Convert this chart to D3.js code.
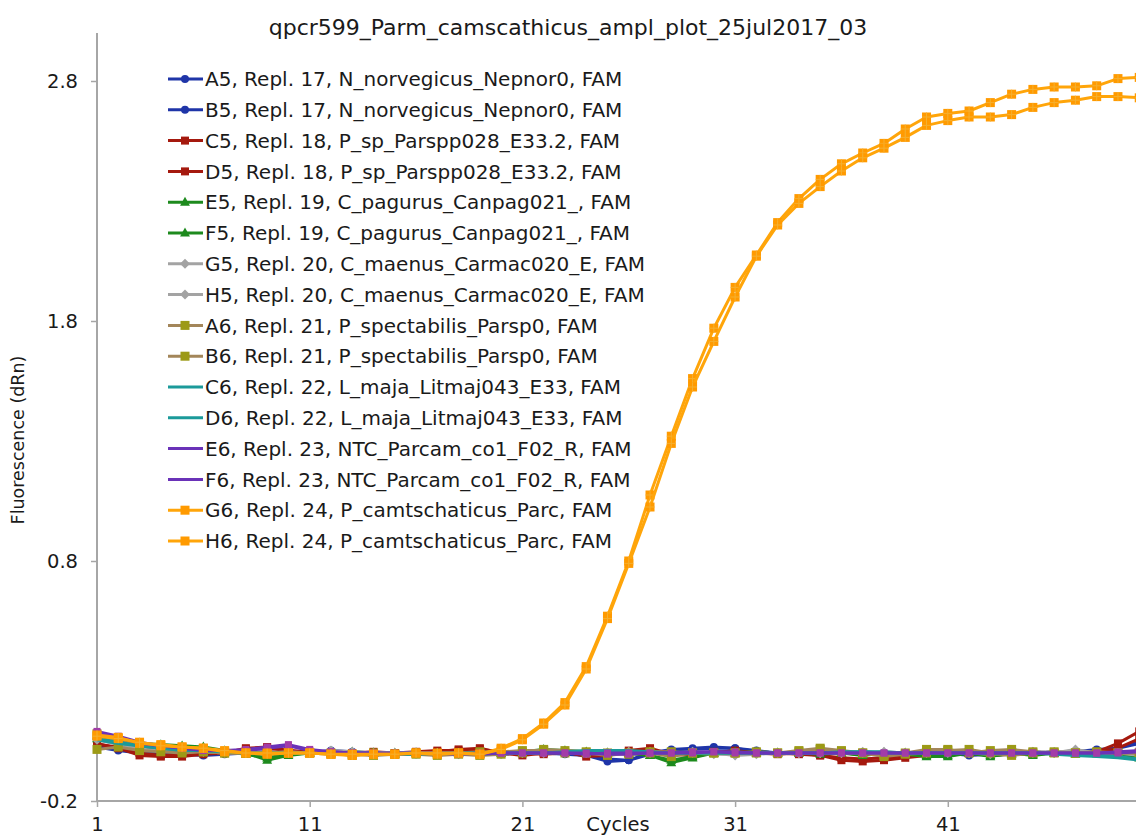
<!DOCTYPE html>
<html>
<head>
<meta charset="utf-8">
<script src="https://cdn.jsdelivr.net/npm/d3@7"></script>
<style>
  html, body { margin: 0; padding: 0; background: #fff; }
  svg { display: block; }
  text { font-family: "DejaVu Sans", Verdana, sans-serif; fill: #1a1a1a; }
</style>
</head>
<body>
<svg id="chart" width="1136" height="836"></svg>
<script>
const title = "qpcr599_Parm_camscathicus_ampl_plot_25jul2017_03";
const xLabel = "Cycles";
const yLabel = "Fluorescence (dRn)";
const xTicks = [1, 11, 21, 31, 41];
const yTicks = [-0.2, 0.8, 1.8, 2.8];
const cycles = d3.range(1, 51);

const seriesNames = [
  "A5, Repl. 17, N_norvegicus_Nepnor0, FAM",
  "B5, Repl. 17, N_norvegicus_Nepnor0, FAM",
  "C5, Repl. 18, P_sp_Parspp028_E33.2, FAM",
  "D5, Repl. 18, P_sp_Parspp028_E33.2, FAM",
  "E5, Repl. 19, C_pagurus_Canpag021_, FAM",
  "F5, Repl. 19, C_pagurus_Canpag021_, FAM",
  "G5, Repl. 20, C_maenus_Carmac020_E, FAM",
  "H5, Repl. 20, C_maenus_Carmac020_E, FAM",
  "A6, Repl. 21, P_spectabilis_Parsp0, FAM",
  "B6, Repl. 21, P_spectabilis_Parsp0, FAM",
  "C6, Repl. 22, L_maja_Litmaj043_E33, FAM",
  "D6, Repl. 22, L_maja_Litmaj043_E33, FAM",
  "E6, Repl. 23, NTC_Parcam_co1_F02_R, FAM",
  "F6, Repl. 23, NTC_Parcam_co1_F02_R, FAM",
  "G6, Repl. 24, P_camtschaticus_Parc, FAM",
  "H6, Repl. 24, P_camtschaticus_Parc, FAM"
];

const valuesA5 = [0.03,0.015,0.005,0.0,-0.005,-0.01,-0.005,0.0,0.005,0.0,0.0,0.01,0.005,0.0,-0.005,-0.005,0.0,0.005,0.0,-0.005,0.0,0.0,0.0,-0.01,-0.035,-0.03,0.0,0.015,0.02,0.025,0.02,0.005,0.0,0.0,0.005,0.0,-0.005,0.0,0.0,0.005,0.0,-0.01,-0.005,0.0,0.005,0.0,0.005,0.015,0.02,0.04];
const valuesB5 = [0.025,0.01,0.0,0.0,0.0,-0.005,0.0,0.0,0.0,0.005,0.005,0.0,0.0,0.0,0.0,0.0,0.0,0.0,0.0,-0.005,0.0,0.0,-0.005,-0.01,-0.025,-0.03,-0.005,0.005,0.015,0.02,0.02,0.01,0.0,0.0,0.0,0.0,0.0,0.0,-0.005,0.0,0.0,0.0,0.0,0.0,0.0,0.005,0.0,0.01,0.02,0.05];
const valuesC5 = [0.04,0.02,-0.01,-0.015,-0.015,-0.005,0.0,0.02,0.025,0.01,0.005,0.0,0.0,0.005,0.0,0.0,0.005,0.015,0.02,0.0,-0.01,0.0,0.005,-0.015,-0.01,0.01,0.02,-0.005,-0.01,0.0,0.01,0.0,-0.005,0.0,-0.01,-0.03,-0.035,-0.03,-0.02,-0.01,-0.005,0.0,-0.01,-0.005,0.0,0.0,0.0,0.005,0.04,0.09];
const valuesD5 = [0.035,0.025,0.0,-0.01,-0.005,0.0,0.005,0.015,0.02,0.01,0.0,0.0,-0.005,0.0,0.0,0.005,0.01,0.01,0.015,0.005,0.0,-0.005,0.0,-0.005,-0.005,0.0,0.01,0.0,-0.005,0.005,0.005,0.0,0.0,-0.005,-0.01,-0.02,-0.025,-0.02,-0.01,-0.005,0.0,0.005,0.0,0.0,-0.005,0.0,0.0,0.0,0.02,0.06];
const valuesE5 = [0.07,0.055,0.04,0.035,0.03,0.025,0.01,0.0,-0.03,-0.01,0.0,0.005,0.005,0.0,-0.005,0.0,0.0,0.0,-0.005,0.0,0.005,0.015,0.01,0.005,0.0,0.0,-0.01,-0.04,-0.02,0.0,0.0,0.005,0.0,0.0,0.0,0.0,-0.01,0.0,-0.005,-0.015,-0.015,0.0,-0.015,0.0,-0.01,0.0,-0.005,0.0,-0.01,-0.02];
const valuesF5 = [0.06,0.05,0.035,0.03,0.025,0.02,0.005,-0.005,-0.02,-0.005,0.0,0.005,0.0,0.0,0.0,0.0,0.0,0.0,0.0,0.0,0.005,0.01,0.005,0.0,0.0,0.0,-0.01,-0.03,-0.015,0.0,0.005,0.0,0.0,0.0,-0.005,0.0,-0.005,0.0,0.0,-0.01,-0.01,0.0,-0.01,-0.005,-0.005,0.0,0.0,0.0,-0.005,-0.015];
const valuesG5 = [0.06,0.04,0.025,0.015,0.01,0.005,0.005,0.0,0.0,0.0,0.0,0.01,0.005,0.0,0.0,0.0,0.0,-0.005,0.0,0.0,0.0,0.005,0.0,0.0,0.0,0.005,0.0,0.0,0.005,0.0,-0.01,-0.005,0.0,0.0,0.0,0.0,0.0,0.005,0.0,0.0,0.005,0.0,-0.005,0.0,0.0,0.0,0.015,0.0,0.0,-0.01];
const valuesH5 = [0.055,0.035,0.02,0.015,0.01,0.005,0.0,0.0,0.0,0.005,0.0,0.005,0.0,0.0,0.0,0.0,-0.005,0.0,0.0,0.0,0.0,0.0,0.005,0.0,0.0,0.0,0.005,0.0,0.0,-0.005,-0.005,0.0,0.0,0.0,0.0,0.0,0.005,0.0,0.0,0.005,0.0,0.0,0.0,0.0,0.005,0.0,0.01,0.0,0.0,-0.005];
const valuesA6 = [0.08,0.05,0.03,0.02,0.01,0.005,0.0,0.0,-0.005,0.0,0.0,0.0,-0.01,0.0,-0.005,0.0,-0.005,0.0,0.005,0.005,0.01,0.01,0.0,0.0,-0.01,0.0,0.005,0.005,0.0,0.0,0.0,0.0,0.0,0.005,0.015,0.005,0.0,-0.01,0.0,0.015,0.015,0.0,0.01,0.015,0.005,0.0,0.0,0.0,0.0,0.0];
const valuesB6 = [0.015,0.025,0.01,0.005,0.0,0.005,0.0,0.0,0.0,0.0,0.0,-0.005,-0.005,-0.01,-0.005,-0.005,-0.01,-0.005,-0.01,-0.005,0.0,0.015,0.01,0.005,0.0,-0.005,0.0,-0.015,0.0,0.0,0.0,0.005,0.0,0.01,0.02,0.01,0.0,-0.015,-0.005,0.0,0.01,0.015,0.0,-0.01,0.0,0.005,0.0,0.005,0.0,0.0];
const valuesC6 = [0.06,0.045,0.03,0.02,0.015,0.01,0.005,0.0,0.0,0.0,0.0,0.0,0.0,-0.005,-0.005,0.0,0.0,0.0,-0.005,0.0,0.0,0.0,0.0,0.005,0.01,0.01,0.005,0.0,0.0,0.0,0.0,0.0,0.0,0.0,0.0,0.0,0.005,0.005,0.0,0.0,0.0,0.0,0.0,0.0,0.0,-0.005,-0.01,-0.015,-0.02,-0.03];
const valuesD6 = [0.055,0.04,0.03,0.02,0.01,0.01,0.005,0.0,0.0,0.0,0.0,0.0,0.0,0.0,-0.005,-0.005,0.0,0.0,0.0,0.0,0.0,0.0,0.005,0.01,0.01,0.005,0.0,0.0,0.0,0.0,0.0,0.0,0.0,0.0,0.0,0.005,0.005,0.0,0.0,0.0,0.0,0.0,0.0,0.0,0.0,0.0,-0.005,-0.01,-0.015,-0.025];
const valuesE6 = [0.09,0.07,0.045,0.03,0.02,0.015,0.01,0.015,0.025,0.035,0.015,0.005,0.0,0.0,-0.005,0.0,0.0,0.0,-0.005,0.0,0.0,0.0,0.0,0.0,-0.005,-0.005,0.0,0.0,0.0,0.005,0.005,0.0,0.0,0.0,0.0,0.0,0.0,0.0,0.0,0.0,0.0,0.0,0.0,0.0,0.0,0.0,0.0,0.0,0.005,0.01];
const valuesF6 = [0.085,0.065,0.04,0.03,0.02,0.01,0.01,0.01,0.02,0.03,0.01,0.005,0.0,0.0,0.0,0.0,0.0,-0.005,0.0,0.0,0.0,0.0,0.0,-0.005,0.0,0.0,0.0,0.0,0.005,0.005,0.0,0.0,0.0,0.0,0.0,0.0,0.0,0.0,0.0,0.0,0.0,0.0,0.0,0.0,0.0,0.0,0.0,0.0,0.0,0.005];
const valuesG6 = [0.075,0.065,0.04,0.035,0.025,0.02,0.005,0.0,-0.005,0.0,0.0,-0.005,-0.01,-0.005,-0.005,0.0,-0.005,0.0,-0.005,0.02,0.06,0.125,0.21,0.36,0.57,0.8,1.075,1.32,1.56,1.77,1.94,2.075,2.21,2.31,2.39,2.455,2.5,2.54,2.6,2.65,2.665,2.675,2.71,2.745,2.765,2.775,2.775,2.78,2.81,2.815];
const valuesH6 = [0.07,0.06,0.045,0.03,0.025,0.02,0.01,0.0,0.0,0.0,0.0,-0.005,-0.005,-0.005,-0.005,0.0,0.0,0.0,-0.005,0.015,0.055,0.12,0.2,0.35,0.56,0.79,1.025,1.29,1.525,1.715,1.9,2.07,2.2,2.29,2.36,2.425,2.48,2.52,2.565,2.615,2.635,2.65,2.65,2.66,2.69,2.71,2.72,2.735,2.735,2.73];

const seriesValues = [valuesA5, valuesB5, valuesC5, valuesD5, valuesE5, valuesF5, valuesG5, valuesH5,
  valuesA6, valuesB6, valuesC6, valuesD6, valuesE6, valuesF6, valuesG6, valuesH6];

// Styles (kept separate from data)
const styleByPair = [
  { line: "#1f35a8", fill: "#1f35a8", marker: "circle", size: 4, legendMarker: true },
  { line: "#a5190e", fill: "#a5190e", marker: "square", size: 8, legendMarker: true },
  { line: "#1d8a1d", fill: "#1d8a1d", marker: "triangle", size: 9, legendMarker: true },
  { line: "#a3a3a3", fill: "#a3a3a3", marker: "diamond", size: 9, legendMarker: true },
  { line: "#a3865a", fill: "#9c9a16", marker: "square", size: 9, legendMarker: true },
  { line: "#1b9a9a", fill: "#1b9a9a", marker: "none", size: 0, legendMarker: false },
  { line: "#6a32b8", fill: "#a23ca8", marker: "square", size: 7, legendMarker: false },
  { line: "#ffa50a", fill: "#ff9a00", marker: "square", size: 9, legendMarker: true }
];

const svg = d3.select("#chart");
const x = d3.scaleLinear().domain([1, 50]).range([97, 97 + 49 * 21.27]);
const y = d3.scaleLinear().domain([-0.2, 3.0]).range([801, 33]);

// Title
svg.append("text").attr("x", 568).attr("y", 35).attr("text-anchor", "middle")
  .attr("font-size", 22).text(title);

// Axes
const axisColor = "#a6a6a6";
const yAxis = svg.append("g").attr("transform", "translate(97,0)")
  .call(d3.axisLeft(y).tickValues(yTicks).tickSize(6).tickPadding(13).tickFormat(d => d.toFixed(1)));
const xAxis = svg.append("g").attr("transform", "translate(0,801)")
  .call(d3.axisBottom(x).tickValues(xTicks).tickSize(6).tickPadding(12).tickFormat(d => String(d)));
[yAxis, xAxis].forEach(g => {
  g.select(".domain").attr("stroke", axisColor).attr("stroke-width", 2);
  g.selectAll(".tick line").attr("stroke", axisColor).attr("stroke-width", 1.5);
  g.selectAll(".tick text").attr("font-size", 19.5).attr("fill", "#1a1a1a")
    .attr("font-family", "'DejaVu Sans', Verdana, sans-serif");
});
yAxis.select(".domain").attr("d", "M0," + y(3.0) + "V" + y(-0.2));
xAxis.select(".domain").attr("d", "M" + x(1) + ",0H" + 1136);
xAxis.selectAll(".tick text").attr("dy", null).attr("y", 30);

svg.append("text").attr("x", 618).attr("y", 831).attr("text-anchor", "middle")
  .attr("font-size", 19.5).text(xLabel);
svg.append("text").attr("transform", "translate(24,440) rotate(-90)")
  .attr("text-anchor", "middle").attr("font-size", 17.5).text(yLabel);

function drawMarker(g, type, cx, cy, size, color) {
  if (type === "circle") {
    g.append("circle").attr("cx", cx).attr("cy", cy).attr("r", size).attr("fill", color);
  } else if (type === "square") {
    g.append("rect").attr("x", cx - size / 2).attr("y", cy - size / 2)
      .attr("width", size).attr("height", size).attr("fill", color);
  } else if (type === "triangle") {
    const s = size;
    g.append("path").attr("d", `M${cx},${cy - s * 0.6}L${cx + s * 0.55},${cy + s * 0.4}L${cx - s * 0.55},${cy + s * 0.4}Z`).attr("fill", color);
  } else if (type === "diamond") {
    const s = size / 2 + 0.5;
    g.append("path").attr("d", `M${cx},${cy - s}L${cx + s},${cy}L${cx},${cy + s}L${cx - s},${cy}Z`).attr("fill", color);
  }
}

const plot = svg.append("g");
const line = d3.line().x((d, i) => x(cycles[i])).y(d => y(d));

seriesValues.forEach((vals, si) => {
  const st = styleByPair[Math.floor(si / 2)];
  const g = plot.append("g");
  g.append("path").attr("d", line(vals)).attr("fill", "none")
    .attr("stroke", st.line).attr("stroke-width", 3).attr("stroke-linejoin", "round");
  if (st.marker !== "none") {
    vals.forEach((v, i) => drawMarker(g, st.marker, x(cycles[i]), y(v), st.size, st.fill));
  }
  if (st.marker === "square" && st.fill === "#ff9a00") {
    vals.forEach((v, i) => {
      const cx = x(cycles[i]), cy = y(v);
      g.append("path").attr("d", `M${cx - 4.5},${cy}H${cx + 4.5}M${cx},${cy - 4.5}V${cy + 4.5}`)
        .attr("stroke", "#f5b030").attr("stroke-width", 1);
    });
  }
});

// Legend
const legend = svg.append("g");
seriesNames.forEach((name, i) => {
  const st = styleByPair[Math.floor(i / 2)];
  const cy = 79 + i * 30.8;
  legend.append("line").attr("x1", 168).attr("x2", 203).attr("y1", cy).attr("y2", cy)
    .attr("stroke", st.line).attr("stroke-width", 3);
  if (st.legendMarker) drawMarker(legend, st.marker, 185, cy, st.size, st.fill);
  legend.append("text").attr("x", 205).attr("y", cy).attr("dy", "0.36em")
    .attr("font-size", 20).text(name);
});
</script>
</body>
</html>
